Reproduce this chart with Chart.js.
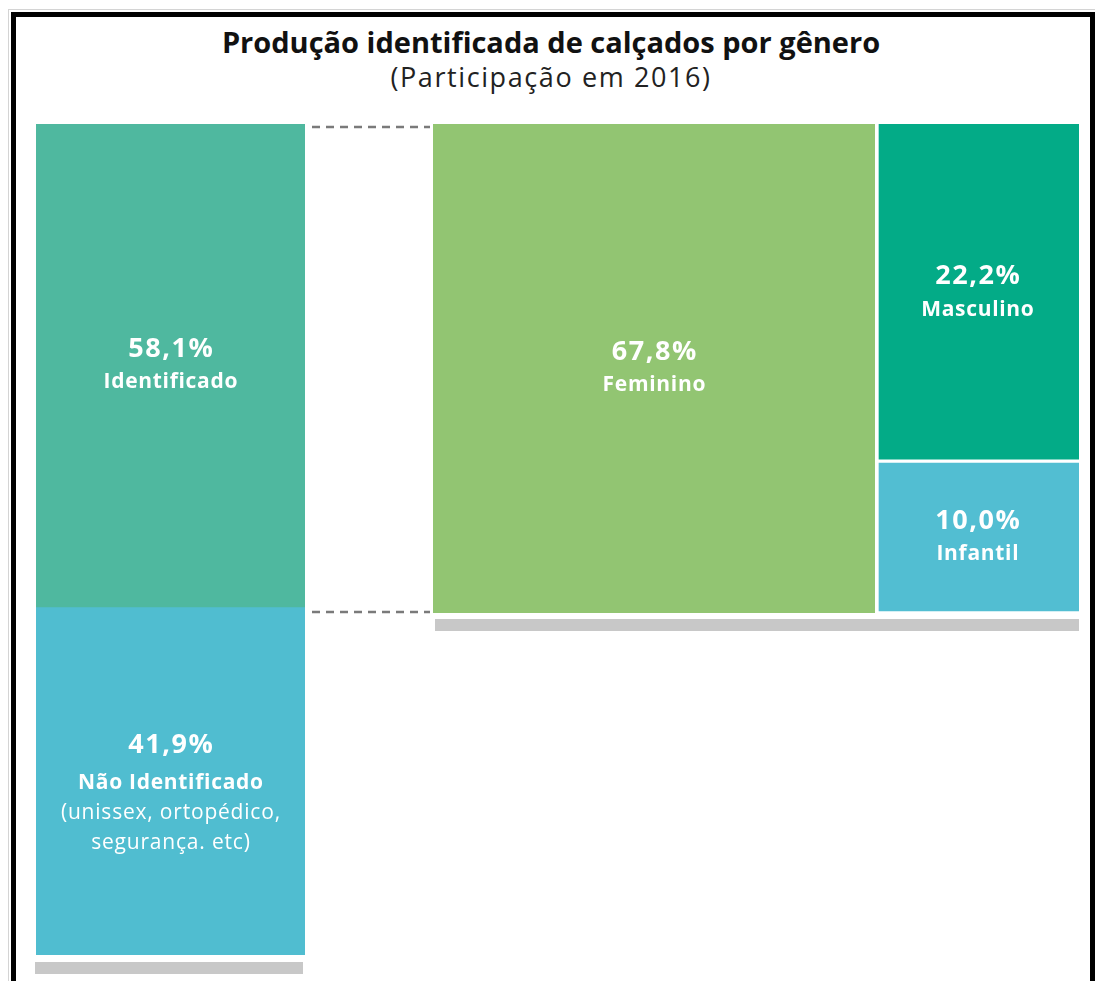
<!DOCTYPE html>
<html>
<head>
<meta charset="utf-8">
<script src="https://cdn.jsdelivr.net/npm/chart.js@4.4.1/dist/chart.umd.min.js"></script>
<style>
  html, body { margin:0; padding:0; background:#fff; width:1095px; height:981px; overflow:hidden; }
  .abs { position:absolute; }
  #outer { left:8px; top:9px; width:1100px; height:1000px; border:1px solid #d4d4d4; box-sizing:border-box; }
  #frame { left:11px; top:12px; width:1084px; height:1000px; border:5px solid #000; box-sizing:border-box; }
  #title { left:0; width:1102px; top:24px; text-align:center; font-family:"Open Sans", sans-serif; font-weight:700; font-size:29px; color:#111; line-height:36px; white-space:nowrap; }
  #subtitle { left:0; width:1102px; top:60px; text-align:center; font-family:"Open Sans", sans-serif; font-weight:400; font-size:27px; letter-spacing:1.6px; color:#222; line-height:34px; white-space:nowrap; }
  .shadow { background:#c8c8c8; }
</style>
</head>
<body>
<div id="outer" class="abs"></div>
<div id="frame" class="abs"></div>
<div id="title" class="abs">Produção identificada de calçados por gênero</div>
<div id="subtitle" class="abs">(Participação em 2016)</div>

<div class="abs shadow" style="left:35px; top:962px; width:268px; height:12px;"></div>
<div class="abs shadow" style="left:435px; top:619px; width:644px; height:12px;"></div>

<svg class="abs" style="left:0; top:0;" width="1095" height="981">
  <line x1="312" y1="127" x2="430" y2="127" stroke="#7a7a7a" stroke-width="2.5" stroke-dasharray="8,6"/>
  <line x1="312" y1="612" x2="430" y2="612" stroke="#7a7a7a" stroke-width="2.5" stroke-dasharray="8,6"/>
</svg>

<div class="abs" style="left:36px; top:124px; width:269px; height:831px;"><canvas id="cLeft"></canvas></div>
<div class="abs" style="left:433px; top:124px; width:442px; height:489px;"><canvas id="cFem"></canvas></div>
<div class="abs" style="left:876px; top:124px; width:203px; height:489px;"><canvas id="cMI"></canvas></div>

<script>
// ---- Data ----
const leftCategories = ['Identificado', 'Não Identificado'];
const leftValues = [58.1, 41.9];
const leftNotes = [[], ['(unissex, ortopédico,', 'segurança. etc)']];

const genderCategories = ['Feminino', 'Masculino', 'Infantil'];
const genderValues = [67.8, 22.2, 10.0];

const leftColors = ['#4FB89F', '#50BDD0'];
const genderColors = ['#92C572', '#03AB87', '#52BED2'];

const FONT = '"Open Sans", sans-serif';
const fmt = v => v.toFixed(1).replace('.', ',') + '%';

// Label plugin: draws percentage + name (+ notes) centred in each bar
const blockLabels = {
  id: 'blockLabels',
  afterDatasetsDraw(chart) {
    const ctx = chart.ctx;
    chart.data.datasets.forEach((ds, i) => {
      const meta = chart.getDatasetMeta(i);
      meta.data.forEach((el) => {
        const p = el.getProps(['x', 'y', 'base'], true);
        const top = Math.min(p.y, p.base), bot = Math.max(p.y, p.base);
        const cx = p.x, cy = (top + bot) / 2;
        const notes = ds.notes || [];
        const labelGap = notes.length ? 38 : 33;
        const lines = [
          { t: fmt(ds.value), f: '700 27px ' + FONT, ls: 1.6, dy: 0 },
          { t: ds.label, f: '700 21px ' + FONT, ls: 0.7, dy: labelGap }
        ];
        notes.forEach((n, k) => lines.push({ t: n, f: '400 21px ' + FONT, ls: 0.8, dy: labelGap + 30 * (k + 1) }));
        const start = notes.length ? cy - 36 : cy - 16;
        ctx.save();
        ctx.fillStyle = '#ffffff';
        ctx.textAlign = 'center';
        ctx.textBaseline = 'middle';
        lines.forEach(l => {
          ctx.font = l.f;
          ctx.letterSpacing = l.ls + 'px';
          ctx.fillText(l.t, cx + l.ls / 2, start + l.dy);
        });
        ctx.restore();
      });
    });
  }
};

function baseOptions(yMax) {
  return {
    responsive: true,
    maintainAspectRatio: false,
    animation: false,
    layout: { padding: 0 },
    plugins: { legend: { display: false }, tooltip: { enabled: false }, title: { display: false } },
    scales: {
      x: { stacked: true, display: false },
      y: { stacked: true, display: false, reverse: true, min: 0, max: yMax }
    }
  };
}

// Left: Identificado / Não Identificado
new Chart(document.getElementById('cLeft'), {
  type: 'bar',
  data: {
    labels: ['Total'],
    datasets: leftCategories.map((c, i) => ({
      label: c, value: leftValues[i], notes: leftNotes[i],
      data: [leftValues[i]], backgroundColor: leftColors[i],
      borderWidth: 0, barPercentage: 1, categoryPercentage: 1
    }))
  },
  options: baseOptions(leftValues[0] + leftValues[1]),
  plugins: [blockLabels]
});

// Right column 1: Feminino
new Chart(document.getElementById('cFem'), {
  type: 'bar',
  data: {
    labels: ['Feminino'],
    datasets: [{
      label: genderCategories[0], value: genderValues[0],
      data: [genderValues[0]], backgroundColor: genderColors[0],
      borderWidth: 0, barPercentage: 1, categoryPercentage: 1
    }]
  },
  options: baseOptions(genderValues[0]),
  plugins: [blockLabels]
});

// Right column 2: Masculino / Infantil
new Chart(document.getElementById('cMI'), {
  type: 'bar',
  data: {
    labels: ['Outros'],
    datasets: [1, 2].map((idx, k) => ({
      label: genderCategories[idx], value: genderValues[idx],
      data: [genderValues[idx]], backgroundColor: genderColors[idx],
      borderColor: '#ffffff', borderSkipped: false,
      borderWidth: k === 0 ? { top: 0, left: 3, right: 0, bottom: 2 } : { top: 2, left: 3, right: 0, bottom: 2 },
      barPercentage: 1, categoryPercentage: 1
    }))
  },
  options: baseOptions(genderValues[1] + genderValues[2]),
  plugins: [blockLabels]
});
</script>
</body>
</html>
